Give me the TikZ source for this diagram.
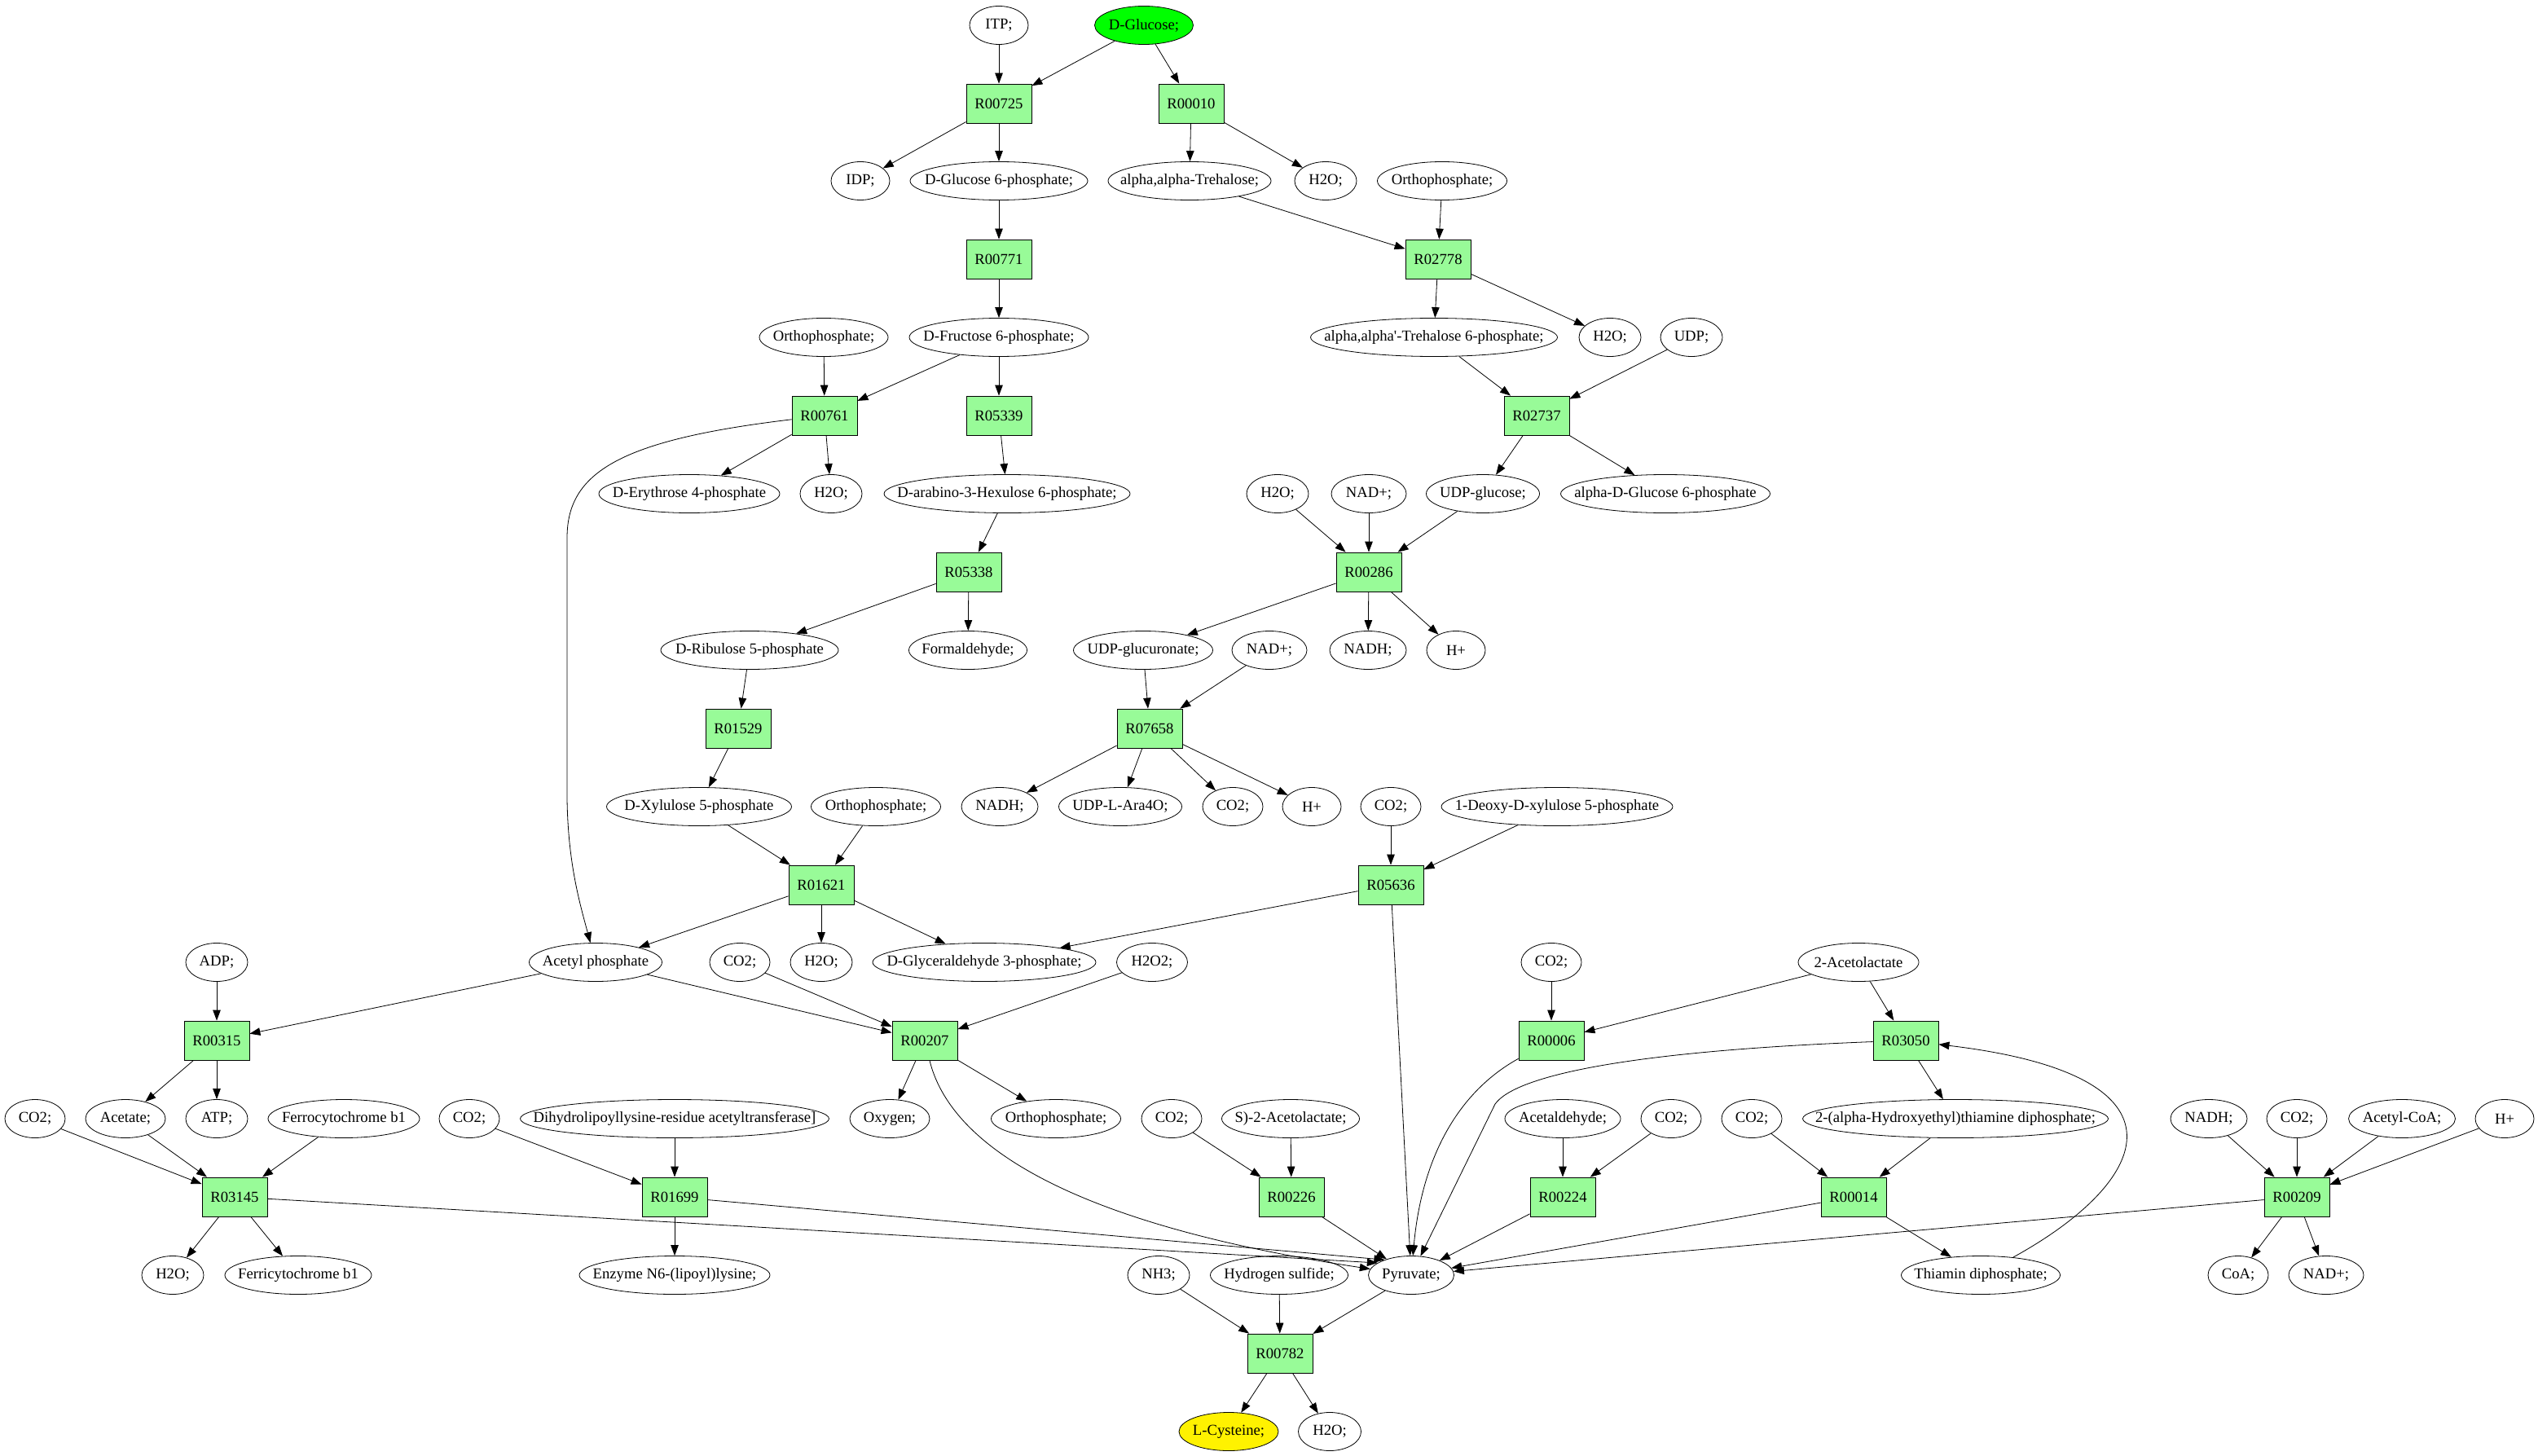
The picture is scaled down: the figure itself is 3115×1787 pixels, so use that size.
\documentclass[tikz,border=0pt]{standalone}
\usepackage{fontspec}
\setmainfont{Liberation Serif}
\usetikzlibrary{arrows.meta,shapes.geometric}
\definecolor{rxngreen}{RGB}{152,251,152}
\definecolor{startgreen}{RGB}{0,255,0}
\begin{document}
\begin{tikzpicture}[x=1pt,y=-1pt,line width=0.8pt,
		font=\fontsize{18.67pt}{22pt}\selectfont,
		rxn/.style={draw,fill=rxngreen,minimum width=80pt,minimum height=48pt,inner sep=0pt},
		met/.style={draw,ellipse,inner xsep=-100pt,inner ysep=0pt,minimum height=47pt,minimum width=#1},
		met/.default=72,
		arr/.style={-{Triangle[length=13pt,width=9.5pt]}}]
			\useasboundingbox (0,0) rectangle (3115,1787);

			%%Reaktionen
			\foreach \n/\x/\y in {R00725/1226/127, R00010/1462/127, R00771/1226/318, R02778/1765/318,
					R00761/1012/510, R05339/1226/510, R02737/1886/510, R05338/1189/702, R00286/1680/702,
					R01529/906/894, R07658/1411/894, R01621/1008/1086, R05636/1707/1086,
					R00315/266/1277, R00207/1135/1277, R00006/1904/1277, R03050/2339/1277,
					R03145/288/1469, R01699/828/1469, R00226/1585/1469, R00224/1918/1469,
					R00014/2275/1469, R00209/2819/1469, R00782/1571/1661}
				\node[rxn] (\n) at (\x,\y) {\n};

			%%Metabolite
			\node[met] (itp) at (1226,31) {ITP;};
			\node[met=121,fill=startgreen] (glc) at (1404,31) {D-Glucose;};
			\node[met] (idp) at (1056,222) {IDP;};
			\node[met=218] (g6p) at (1226,222) {D-Glucose 6-phosphate;};
			\node[met=200] (treh) at (1460,222) {alpha,alpha-Trehalose;};
			\node[met=76] (water1) at (1627,222) {H2O;};
			\node[met=159] (pi1) at (1770,222) {Orthophosphate;};
			\node[met=158] (pi2) at (1011,414) {Orthophosphate;};
			\node[met=220] (f6p) at (1226,414) {D-Fructose 6-phosphate;};
			\node[met=303] (t6p) at (1760,414) {alpha,alpha\textquotesingle-Trehalose 6-phosphate;};
			\node[met=76] (water2) at (1976,414) {H2O;};
			\node[met=76] (udp) at (2076,414) {UDP;};
			\node[met=222] (e4p) at (846,606) {D-Erythrose 4-phosphate};
			\node[met=76] (water3) at (1020,606) {H2O;};
			\node[met=302] (hu6p) at (1236,606) {D-arabino-3-Hexulose 6-phosphate;};
			\node[met=76] (water4) at (1568,606) {H2O;};
			\node[met=92] (nad1) at (1680,606) {NAD+;};
			\node[met=139] (udpglc) at (1820,606) {UDP-glucose;};
			\node[met=257] (ag6p) at (2044,606) {alpha-D-Glucose 6-phosphate};
			\node[met=218] (ru5p) at (920,798) {D-Ribulose 5-phosphate};
			\node[met=145] (hcho) at (1188,798) {Formaldehyde;};
			\node[met=171] (udpglcu) at (1403,798) {UDP-glucuronate;};
			\node[met=92] (nad2) at (1558,798) {NAD+;};
			\node[met=94] (nadh1) at (1679,798) {NADH;};
			\node[met] (hplus1) at (1787,798) {H+};
			\node[met=227] (xu5p) at (858,990) {D-Xylulose 5-phosphate};
			\node[met=159] (pi3) at (1075,990) {Orthophosphate;};
			\node[met=94] (nadh2) at (1227,990) {NADH;};
			\node[met=151] (ara4o) at (1375,990) {UDP-L-Ara4O;};
			\node[met=74] (co2a) at (1513,990) {CO2;};
			\node[met] (hplus2) at (1610,990) {H+};
			\node[met=74] (co2b) at (1707,990) {CO2;};
			\node[met=284] (dxp) at (1911,990) {1-Deoxy-D-xylulose 5-phosphate};
			\node[met=76] (adp) at (266,1181) {ADP;};
			\node[met=163] (acp) at (731,1181) {Acetyl phosphate};
			\node[met=74] (co2c) at (908,1181) {CO2;};
			\node[met=76] (water5) at (1008,1181) {H2O;};
			\node[met=274] (gap) at (1208,1181) {D-Glyceraldehyde 3-phosphate;};
			\node[met=87] (h2o2) at (1414,1181) {H2O2;};
			\node[met=74] (co2d) at (1904,1181) {CO2;};
			\node[met=148] (alac) at (2281,1181) {2-Acetolactate};
			\node[met=74] (co2e) at (43,1373) {CO2;};
			\node[met=98] (ace) at (154,1373) {Acetate;};
			\node[met=76] (atp) at (266,1373) {ATP;};
			\node[met=186] (fcyt) at (422,1373) {Ferrocytochrome b1};
			\node[met=74] (co2f) at (576,1373) {CO2;};
			\node[met=379] (dlat) at (828,1373) {Dihydrolipoyllysine-residue acetyltransferase]};
			\node[met=98] (oxy) at (1092,1373) {Oxygen;};
			\node[met=159] (pi4) at (1296,1373) {Orthophosphate;};
			\node[met=74] (co2g) at (1438,1373) {CO2;};
			\node[met=169] (salac) at (1584,1373) {S)-2-Acetolactate;};
			\node[met=142] (acald) at (1918,1373) {Acetaldehyde;};
			\node[met=74] (co2h) at (2051,1373) {CO2;};
			\node[met=74] (co2i) at (2150,1373) {CO2;};
			\node[met=375] (hetpp) at (2400,1373) {2-(alpha-Hydroxyethyl)thiamine diphosphate;};
			\node[met=94] (nadh3) at (2711,1373) {NADH;};
			\node[met=74] (co2j) at (2819,1373) {CO2;};
			\node[met=131] (accoa) at (2948,1373) {Acetyl-CoA;};
			\node[met] (hplus3) at (3074,1373) {H+};
			\node[met=76] (water6) at (212,1565) {H2O;};
			\node[met=180] (ficyt) at (366,1565) {Ferricytochrome b1};
			\node[met=234] (lipo) at (828,1565) {Enzyme N6-(lipoyl)lysine;};
			\node[met=76] (nh3) at (1422,1565) {NH3;};
			\node[met=169] (h2s) at (1570,1565) {Hydrogen sulfide;};
			\node[met=105] (pyr) at (1732,1565) {Pyruvate;};
			\node[met=195] (tpp) at (2431,1565) {Thiamin diphosphate;};
			\node[met=74] (coa) at (2747,1565) {CoA;};
			\node[met=92] (nad3) at (2855,1565) {NAD+;};
			\node[met=122,fill=yellow] (cys) at (1508,1757) {L-Cysteine;};
			\node[met=77] (water7) at (1632,1757) {H2O;};

			%%Kanten
			\foreach \a/\b in {itp/R00725, glc/R00725, glc/R00010, R00725/idp, R00725/g6p,
					R00010/treh, R00010/water1, g6p/R00771, treh/R02778, pi1/R02778,
					R00771/f6p, R02778/t6p, R02778/water2, pi2/R00761, f6p/R00761, f6p/R05339,
					t6p/R02737, udp/R02737, R00761/e4p, R00761/water3, R05339/hu6p,
					R02737/udpglc, R02737/ag6p, hu6p/R05338, water4/R00286, nad1/R00286,
					udpglc/R00286, R05338/ru5p, R05338/hcho, R00286/udpglcu, R00286/nadh1,
					R00286/hplus1, ru5p/R01529, udpglcu/R07658, nad2/R07658, R01529/xu5p,
					R07658/nadh2, R07658/ara4o, R07658/co2a, R07658/hplus2, xu5p/R01621,
					pi3/R01621, co2b/R05636, dxp/R05636, R01621/acp, R01621/water5,
					R01621/gap, R05636/gap, R05636/pyr, adp/R00315, acp/R00315, acp/R00207,
					co2c/R00207, h2o2/R00207, co2d/R00006, alac/R00006, alac/R03050,
					R00315/ace, R00315/atp, R00207/oxy, R00207/pi4, R03050/hetpp,
					co2e/R03145, ace/R03145, fcyt/R03145, co2f/R01699, dlat/R01699,
					co2g/R00226, salac/R00226, acald/R00224, co2h/R00224, co2i/R00014,
					hetpp/R00014, nadh3/R00209, co2j/R00209, accoa/R00209, hplus3/R00209,
					R03145/water6, R03145/ficyt, R03145/pyr.160, R01699/lipo, R01699/pyr.150,
					R00226/pyr, R00224/pyr, R00014/pyr, R00014/tpp, R00209/pyr, R00209/coa,
					R00209/nad3, nh3/R00782, h2s/R00782, pyr/R00782, R00782/cys, R00782/water7}
				\draw[arr] (\a) -- (\b);

			%%gebogene Kanten
			\draw[arr] (R00761) .. controls (760,540) and (696,580) .. (696,660) -- (696,980)
				.. controls (697,1060) and (712,1110) .. (acp);
			\draw[arr] (R00207) .. controls (1165,1400) and (1300,1500) .. (pyr);
			\draw[arr] (R00006) .. controls (1790,1340) and (1745,1420) .. (pyr);
			\draw[arr] (R03050) .. controls (2000,1290) and (1860,1320) .. (1835,1355) -- (pyr);
			\draw[arr] (tpp) .. controls (2640,1450) and (2700,1320) .. (R03050);
		\end{tikzpicture}
\end{document}
